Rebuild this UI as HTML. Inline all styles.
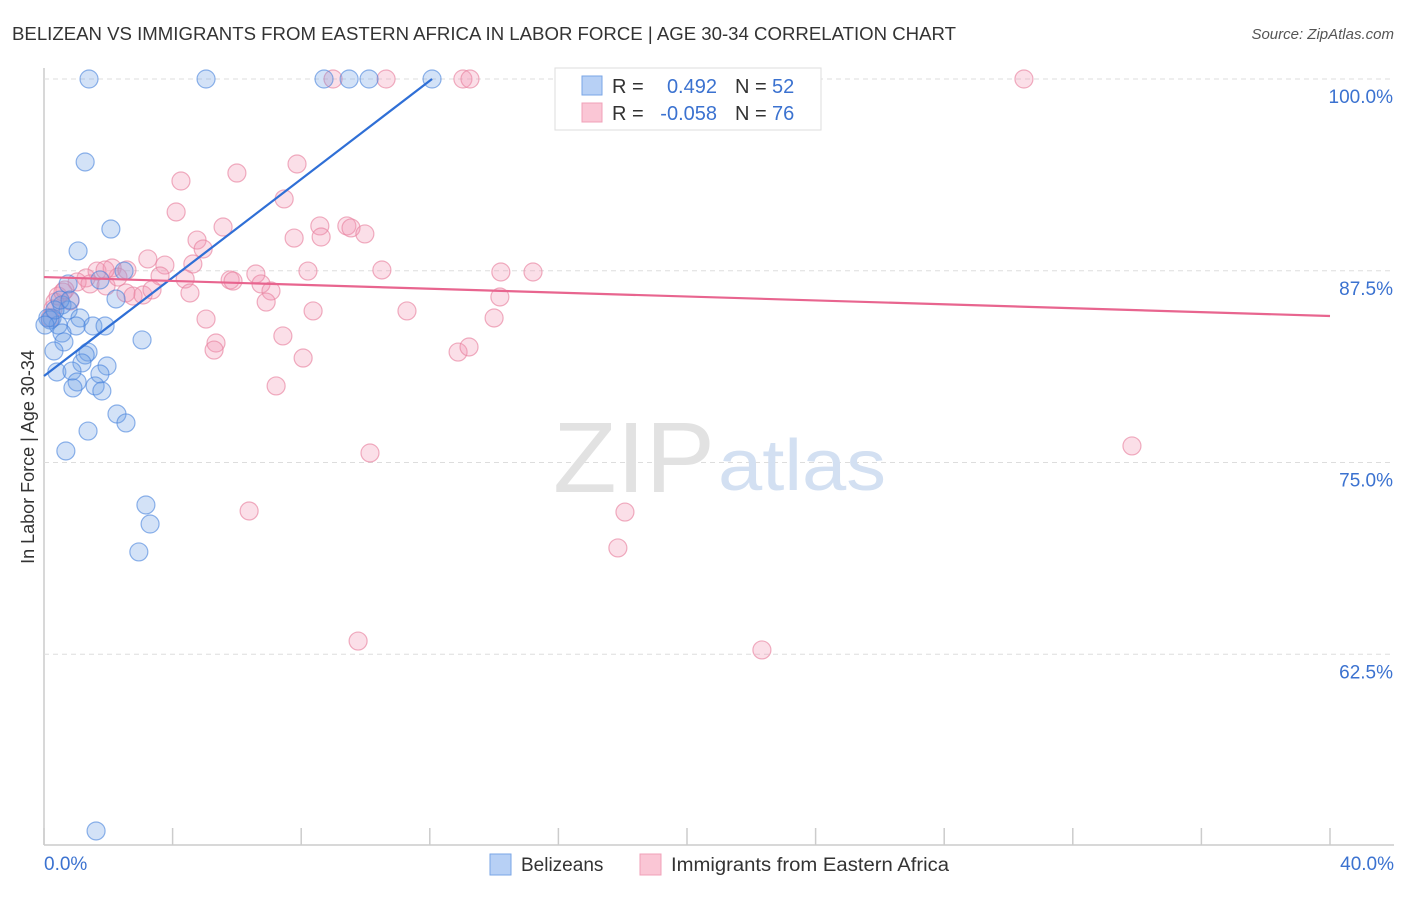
<!DOCTYPE html>
<html><head><meta charset="utf-8"><style>
body{margin:0;background:#fff;font-family:"Liberation Sans",sans-serif;}
svg text{font-family:"Liberation Sans",sans-serif;}
</style></head><body>
<svg id="chart" width="1406" height="892">
<text x="12" y="40" font-size="18" fill="#333" textLength="944" lengthAdjust="spacingAndGlyphs">BELIZEAN VS IMMIGRANTS FROM EASTERN AFRICA IN LABOR FORCE | AGE 30-34 CORRELATION CHART</text>
<text x="1394" y="39" font-size="15" fill="#555" font-style="italic" text-anchor="end">Source: ZipAtlas.com</text>
<g id="grid"></g>
<text x="553" y="492" font-size="100" fill="#e2e2e2" font-family="Liberation Serif" textLength="162" lengthAdjust="spacingAndGlyphs">ZIP</text>
<text x="718" y="490" font-size="72" fill="#d3e0f2" textLength="168" lengthAdjust="spacingAndGlyphs">atlas</text>
<text transform="translate(34,457) rotate(-90)" font-size="18" fill="#333" text-anchor="middle">In Labor Force | Age 30-34</text>
<g id="pts"></g>
<g id="lines"></g>
<g>
<rect x="555" y="68" width="266" height="62" fill="#fff" stroke="#ddd"/>
<rect x="582" y="76" width="20" height="19" fill="#b7d0f5" stroke="#7aa6e6"/>
<rect x="582" y="103" width="20" height="19" fill="#fac6d5" stroke="#f0a0b8"/>
<text x="612" y="93" font-size="20" fill="#333">R =</text>
<text x="717" y="93" font-size="20" fill="#3b72d0" text-anchor="end">0.492</text>
<text x="735" y="93" font-size="20" fill="#333">N =</text>
<text x="772" y="93" font-size="20" fill="#3b72d0">52</text>
<text x="612" y="120" font-size="20" fill="#333">R =</text>
<text x="717" y="120" font-size="20" fill="#3b72d0" text-anchor="end">-0.058</text>
<text x="735" y="120" font-size="20" fill="#333">N =</text>
<text x="772" y="120" font-size="20" fill="#3b72d0">76</text>
</g>
<g>
<rect x="490" y="854" width="21" height="21" fill="#b7d0f5" stroke="#7aa6e6"/>
<text x="521" y="871" font-size="19" fill="#333">Belizeans</text>
<rect x="640" y="854" width="21" height="21" fill="#fac6d5" stroke="#f0a0b8"/>
<text x="671" y="871" font-size="19" fill="#333" textLength="278" lengthAdjust="spacingAndGlyphs">Immigrants from Eastern Africa</text>
</g>
<text x="44" y="870" font-size="19" fill="#3b72d0">0.0%</text>
<text x="1394" y="870" font-size="19" fill="#3b72d0" text-anchor="end">40.0%</text>
</svg>
<script>
const NS="http://www.w3.org/2000/svg";
const yTicks=[100,87.5,75,62.5];
const yTickLabels=["100.0%","87.5%","75.0%","62.5%"];
const xTicks=[0,4,8,12,16,20,24,28,32,36,40];
const blueX=[1.40,5.04,8.71,9.49,10.11,12.07,1.28,2.08,1.06,2.49,1.74,2.24,0.75,0.56,0.75,0.25,0.44,0.19,1.12,1.52,1.90,1.00,0.56,0.62,3.05,0.31,1.37,1.28,1.18,1.96,0.40,0.87,1.74,1.03,1.59,0.90,1.80,2.27,2.55,1.37,0.68,3.17,3.30,2.95,1.62,0.12,0.34,0.50,0.81,0.03];
const blueY=[100,100,100,100,100,100,94.59,90.22,88.79,87.48,86.90,85.66,86.64,85.27,84.94,84.42,83.96,84.29,84.42,83.90,83.90,83.90,83.44,82.86,82.99,82.27,82.20,82.01,81.49,81.29,80.90,80.96,80.77,80.25,79.99,79.86,79.66,78.16,77.58,77.05,75.75,72.23,70.99,69.17,50.98,84.42,84.94,85.59,85.59,83.96];
const pinkX=[8.99,10.64,13.03,13.25,16.55,23.30,30.48,7.87,4.26,6.00,4.11,7.47,5.57,4.76,4.95,7.78,8.58,8.62,9.42,9.55,9.98,3.23,3.76,4.63,3.61,4.39,5.79,6.59,6.75,5.88,8.21,10.51,14.21,15.21,1.65,2.12,1.31,1.03,1.43,1.93,2.55,2.77,3.08,3.36,4.54,7.06,6.91,8.37,11.29,14.18,14.00,0.34,0.81,0.44,0.59,0.28,0.19,5.04,5.35,5.29,7.43,8.06,7.22,12.88,13.22,10.14,6.38,18.07,17.85,9.77,22.33,33.84,2.30,2.58,1.90,0.65];
const pinkY=[100,100,100,100,100,100,100,94.46,93.35,93.87,91.33,92.18,90.35,89.50,88.92,89.63,90.42,89.70,90.42,90.29,89.90,88.27,87.87,87.94,87.16,86.96,86.90,87.29,86.64,86.83,87.48,87.55,87.42,87.42,87.48,87.68,87.03,86.77,86.64,86.51,86.05,85.85,85.92,86.25,86.05,86.18,85.46,84.88,84.88,85.79,84.42,85.46,85.53,85.85,86.11,85.01,84.42,84.35,82.79,82.33,83.25,81.81,79.99,82.20,82.53,75.62,71.84,71.77,69.43,63.36,62.78,76.08,87.09,87.55,87.55,86.25];
const blueTrendX=[0,12.07];
const blueTrendY=[80.64,100];
const pinkTrendX=[0,40];
const pinkTrendY=[87.09,84.55];
const sx=v=>44+v*32.15;
const sy=v=>79+(100-v)*15.34;
function mk(tag,attrs,parent){const e=document.createElementNS(NS,tag);for(const k in attrs)e.setAttribute(k,attrs[k]);parent.appendChild(e);return e;}
const grid=document.getElementById('grid');
mk('line',{x1:44,y1:68,x2:44,y2:845,stroke:'#ccc','stroke-width':1.5},grid);
mk('line',{x1:44,y1:845,x2:1394,y2:845,stroke:'#ccc','stroke-width':1.5},grid);
yTicks.forEach((t,i)=>{
  const l=mk('line',{x1:44,y1:sy(t),x2:1394,y2:sy(t),stroke:'#ddd','stroke-dasharray':'5,4'},grid);
  
  
  const tx=mk('text',{x:1393,y:sy(t)+24,'font-size':19,fill:'#3b72d0','text-anchor':'end'},grid);
  tx.textContent=yTickLabels[i];
  
  
});
xTicks.forEach(t=>{
  const l=mk('line',{x1:sx(t),y1:828,x2:sx(t),y2:845,stroke:'#ccc','stroke-width':1.5},grid);
  
  
});
const pts=document.getElementById('pts');
pinkX.forEach((x,i)=>{
  const c=mk('circle',{cx:sx(x),cy:sy(pinkY[i]),r:9,fill:'rgba(242,150,178,0.3)',stroke:'rgba(232,130,160,0.65)','stroke-width':1.2},pts);
  
  
});
blueX.forEach((x,i)=>{
  const c=mk('circle',{cx:sx(x),cy:sy(blueY[i]),r:9,fill:'rgba(110,160,230,0.3)',stroke:'rgba(70,130,220,0.6)','stroke-width':1.2},pts);
  
  
});
const lines=document.getElementById('lines');
const lb=mk('line',{x1:sx(blueTrendX[0]),y1:sy(blueTrendY[0]),x2:sx(blueTrendX[1]),y2:sy(blueTrendY[1]),stroke:'#2f6fd6','stroke-width':2.2},lines);


const lp=mk('line',{x1:sx(pinkTrendX[0]),y1:sy(pinkTrendY[0]),x2:sx(pinkTrendX[1]),y2:sy(pinkTrendY[1]),stroke:'#e8658f','stroke-width':2.2},lines);


</script>
</body></html>
